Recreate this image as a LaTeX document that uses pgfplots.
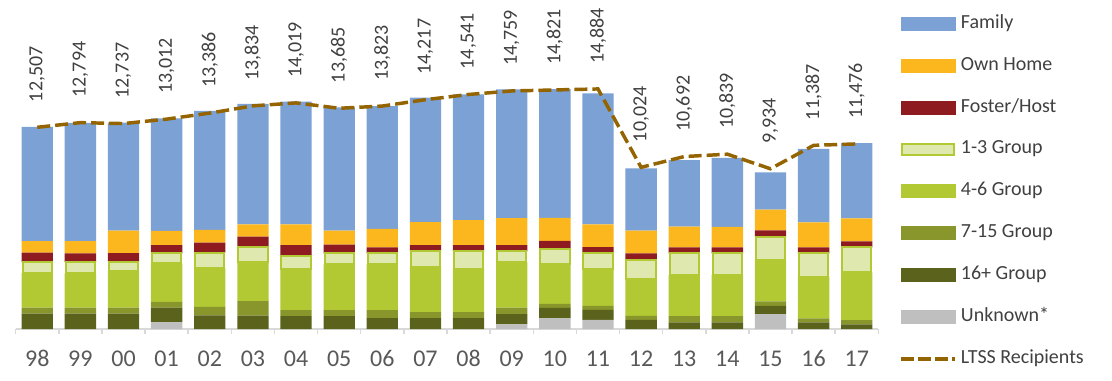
\documentclass[border=0pt]{standalone}
\usepackage{fontspec}
\setmainfont{Carlito}
\usepackage{pgfplots}
\usepackage{pgfplotstable}
\pgfplotsset{compat=1.18}
\definecolor{famc}{HTML}{7BA1D5}
\definecolor{ownc}{HTML}{FDB71E}
\definecolor{fosc}{HTML}{8E1B20}
\definecolor{g13c}{HTML}{DFE9AF}
\definecolor{g46c}{HTML}{B2C934}
\definecolor{g715c}{HTML}{88962B}
\definecolor{g16c}{HTML}{5A621C}
\definecolor{unkc}{HTML}{BFBFBF}
\definecolor{ltssc}{HTML}{946400}
\definecolor{axisgray}{HTML}{D9D9D9}
\definecolor{tickgray}{HTML}{595959}
\definecolor{labelgray}{HTML}{404040}

\pgfplotstableread{
x  unk  g16  g715  g46   g13   fos  own   fam   ltss
0  0    950  370   2150  680   580  725   7070  12507
1  0    950  370   2130  700   540  760   7330  12794
2  0    950  370   2280  560   540  1400  6700  12737
3  415  905  370   2380  620   515  885   6970  13012
4  0    850  515   2420  955   620  780   7380  13386
5  0    825  910   2400  930   660  770   7460  13834
6  0    805  370   2560  805   665  1285  7600  14019
7  0    805  370   2835  680   535  870   7650  13685
8  0    680  495   2835  680   370  1155  7610  13823
9  0    680  370   2810  955   390  1425  7710  14217
10 0    680  370   2685  1080  390  1550  7790  14541
11 290  640  390   2815  680   390  1675  7980  14759
12 665  640  250   2460  930   515  1425  7980  14821
13 560  620  250   2315  955   370  1425  8120  14884
14 0    560  250   2295  1195  395  1400  3870  10024
15 0    415  390   2555  1335  370  1290  4120  10692
16 0    415  390   2560  1325  370  1275  4280  10839
17 930  510  280   2575  1425  390  1285  2310  9934
18 0    415  250   2580  1450  360  1550  4560  11387
19 0    290  265   2960  1550  370  1425  4670  11476
}\datatable

\pgfkeys{/pgf/number format/.cd, fixed, precision=0, 1000 sep={,}, assume math mode=true}

\begin{document}
\begin{tikzpicture}
\begin{axis}[
  name=main,
  width=646.95pt, height=246.75pt, scale only axis,
  xmin=-0.5, xmax=19.5, ymin=0, ymax=20398,
  ybar stacked, bar width=23.5pt,
  axis y line=none, axis x line*=bottom,
  axis line style={draw=axisgray, line width=1.1pt},
  x axis line style={-},
  tick align=outside,
  xtick={0,...,19},
  xticklabels={98,99,00,01,02,03,04,05,06,07,08,09,10,11,12,13,14,15,16,17},
  major tick length=0pt,
  minor xtick={-0.5,0.5,...,19.5},
  minor tick length=3.75pt,
  minor tick style={draw=axisgray, line width=1.1pt},
  xticklabel style={anchor=base, yshift=-27.75pt, font=\fontsize{18pt}{20pt}\selectfont, text=tickgray},
  clip=false,
]
\addplot[fill=unkc, draw=none] table[x=x,y=unk]{\datatable};
\addplot[fill=g16c, draw=none] table[x=x,y=g16]{\datatable};
\addplot[fill=g715c, draw=none] table[x=x,y=g715]{\datatable};
\addplot[fill=g46c, draw=none] table[x=x,y=g46]{\datatable};
\addplot[fill=g13c, draw=g46c, line width=1.5pt, bar width=22pt] table[x=x,y=g13]{\datatable};
\addplot[fill=fosc, draw=none] table[x=x,y=fos]{\datatable};
\addplot[fill=ownc, draw=none] table[x=x,y=own]{\datatable};
\addplot[fill=famc, draw=none] table[x=x,y=fam]{\datatable};
\end{axis}

\begin{axis}[
  width=646.95pt, height=246.75pt, scale only axis,
  xmin=-0.5, xmax=19.5, ymin=0, ymax=20398,
  hide axis, clip=false,
  legend cell align=left,
  legend style={draw=none, fill=none, inner sep=0pt, outer sep=0pt,
    at={(axis description cs:1.0245,0.9587)}, anchor=north west,
    row sep=16.43pt,
    font=\fontsize{15pt}{18pt}\selectfont, text=labelgray,
    nodes={text height=11pt, text depth=4pt, inner ysep=0pt, inner xsep=3pt}},
]
\addlegendimage{legend image code/.code={\fill[famc] (0pt,-4.9pt) rectangle (40.5pt,4.9pt);}}
\addlegendentry{Family}
\addlegendimage{legend image code/.code={\fill[ownc] (0pt,-4.9pt) rectangle (40.5pt,4.9pt);}}
\addlegendentry{Own Home}
\addlegendimage{legend image code/.code={\fill[fosc] (0pt,-4.9pt) rectangle (40.5pt,4.9pt);}}
\addlegendentry{Foster/Host}
\addlegendimage{legend image code/.code={\draw[fill=g13c, draw=g46c, line width=1.5pt] (0.75pt,-4.15pt) rectangle (39.75pt,4.15pt);}}
\addlegendentry{1-3 Group}
\addlegendimage{legend image code/.code={\fill[g46c] (0pt,-4.9pt) rectangle (40.5pt,4.9pt);}}
\addlegendentry{4-6 Group}
\addlegendimage{legend image code/.code={\fill[g715c] (0pt,-4.9pt) rectangle (40.5pt,4.9pt);}}
\addlegendentry{7-15 Group}
\addlegendimage{legend image code/.code={\fill[g16c] (0pt,-4.9pt) rectangle (40.5pt,4.9pt);}}
\addlegendentry{16+ Group}
\addlegendimage{legend image code/.code={\fill[unkc] (0pt,-4.9pt) rectangle (40.5pt,4.9pt);}}
\addlegendentry{Unknown*}
\addplot[ltssc, line width=2.6pt, dash pattern=on 9.75pt off 3.75pt, mark=none,
  legend image code/.code={\draw[ltssc, line width=2.6pt, dash pattern=on 9.75pt off 3pt] (0pt,0pt) -- (40.5pt,0pt);}] table[x=x,y=ltss]{\datatable};
\addlegendentry{LTSS Recipients}
\addplot[draw=none, mark=none, forget plot, nodes near coords, point meta=explicit,
  nodes near coords style={rotate=90, anchor=west, inner sep=0pt,
    font=\fontsize{15pt}{18pt}\selectfont, text=labelgray}]
  table[x=x, y expr=\thisrow{ltss}+1550, meta=ltss]{\datatable};
\end{axis}
\pgfresetboundingbox
\path[use as bounding box] ([xshift=-11.78pt,yshift=-38.25pt]main.south west) rectangle ([xshift=822.22pt,yshift=246.75pt]main.south west);
\end{tikzpicture}
\end{document}
